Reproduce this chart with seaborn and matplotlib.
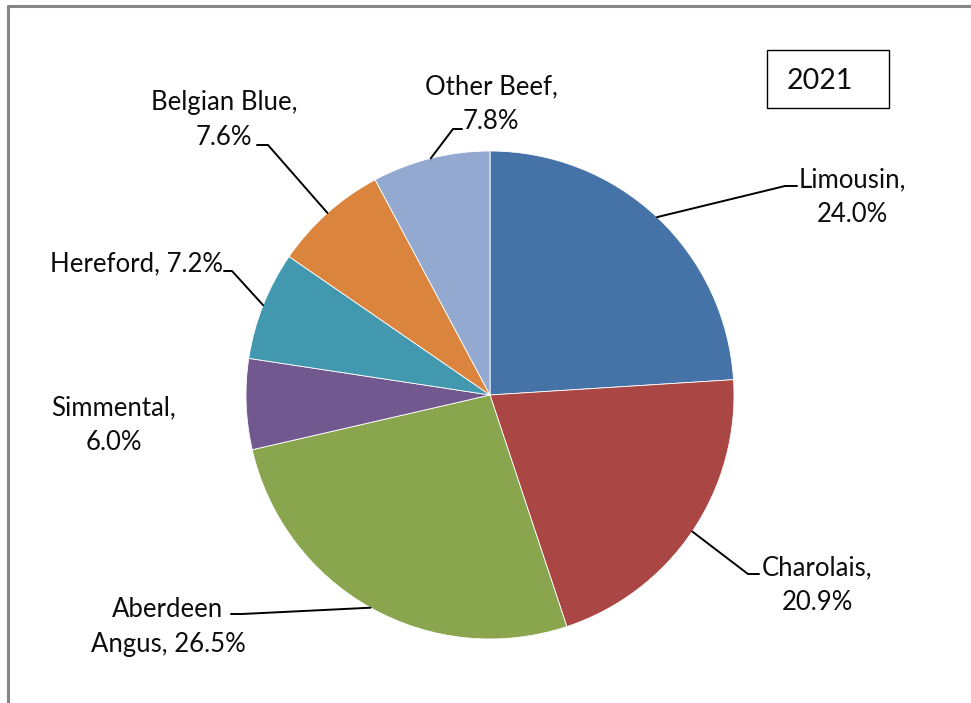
import numpy as np
import matplotlib
matplotlib.use("Agg")
import matplotlib.pyplot as plt
import seaborn as sns
from matplotlib.patches import Rectangle
from matplotlib.lines import Line2D

# Data
breeds = ["Limousin", "Charolais", "Aberdeen Angus", "Simmental", "Hereford", "Belgian Blue", "Other Beef"]
shares = [24.0, 20.9, 26.5, 6.0, 7.2, 7.6, 7.8]
label_names = ["Limousin", "Charolais", "Aberdeen\nAngus", "Simmental", "Hereford", "Belgian Blue", "Other Beef"]
label_seps = [",\n", ",\n", ", ", ",\n", ", ", ",\n", ",\n"]
year = "2021"

colors = ["#4572A7", "#AA4643", "#89A54E", "#71588F", "#4198AF", "#DB843D", "#93A9CF"]

sns.set_theme(style="white")
plt.rcParams['font.family'] = ['Lato', 'DejaVu Sans']

W, H = 971, 703
fig = plt.figure(figsize=(W / 100, H / 100), dpi=100, facecolor="white")

# pie centre (490, 395) px, radius 244 px
cx, cy, r = 490, 395, 244
ax = fig.add_axes([(cx - r) / W, (H - cy - r) / H, 2 * r / W, 2 * r / H])
wedges, _ = ax.pie(shares, colors=sns.color_palette(colors), startangle=90, counterclock=False,
                   wedgeprops=dict(edgecolor="white", linewidth=0.6))
ax.set_xlim(-1, 1)
ax.set_ylim(-1, 1)
ax.set_aspect("equal")
ax.axis("off")


def px(x, y):
    # pixel position (top-left origin) -> data coords
    return ax.transData.inverted().transform((x, H - y))


# label layout: text centre, leader elbow, leader end (pixels)
text_pos = [(852, 197), (817, 585), (168, 627), (114, 425), (136, 264), (224, 120), (491, 104)]
leaders = [((785, 186), (797, 186)),
           ((748, 574), (759, 574)),
           ((242, 614), (231, 614)),
           None,
           ((232, 271), (224, 271)),
           ((268, 145), (257, 145)),
           ((453, 129), (462, 129))]

for w, name, sep, val, tp, ld in zip(wedges, label_names, label_seps, shares, text_pos, leaders):
    tx, ty = px(*tp)
    ax.text(tx, ty, f"{name}{sep}{val:.1f}%", ha="center", va="center", fontsize=18.5,
            linespacing=1.5, color="#0d0d0d", clip_on=False)
    if ld is None:
        continue
    ang = np.deg2rad((w.theta1 + w.theta2) / 2)
    rx, ry = w.r * np.cos(ang), w.r * np.sin(ang)
    (ex, ey), (fx, fy) = px(*ld[0]), px(*ld[1])
    ax.plot([rx, ex, fx], [ry, ey, fy], color="black", lw=1.4, clip_on=False,
            solid_joinstyle="miter")

# year box
fig.patches.append(Rectangle((767 / W, (H - 108) / H), 122 / W, 58 / H, transform=fig.transFigure,
                             facecolor="white", edgecolor="black", lw=1.0))
fig.text(820 / W, (H - 81) / H, year, ha="center", va="center", fontsize=20.5, color="#0d0d0d")

# chart area border (left and top only visible)
fig.add_artist(Line2D([8 / W, 8 / W], [0, (H - 6) / H], color="#868686", lw=2.2))
fig.add_artist(Line2D([8 / W, 1], [(H - 6) / H, (H - 6) / H], color="#868686", lw=2.2))

fig.savefig("out.png", dpi=100, facecolor="white")
